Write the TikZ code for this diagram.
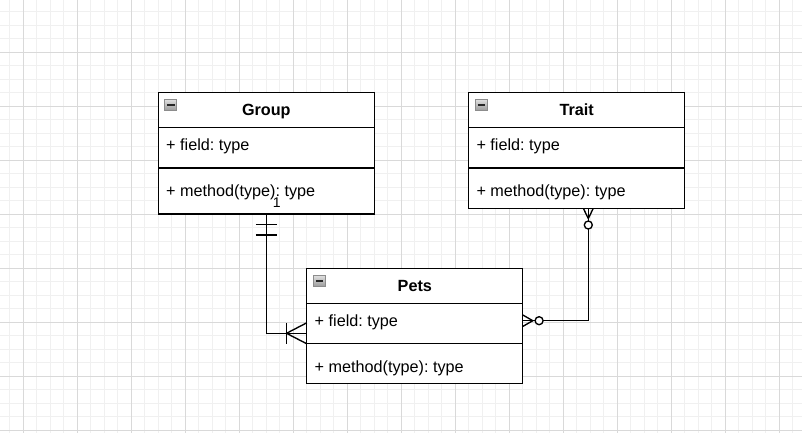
\documentclass[tikz,border=0pt]{standalone}
\usepackage{fontspec}
\setmainfont{Liberation Sans}
\usetikzlibrary{calc}
\frenchspacing
\begin{document}
\frenchspacing
\begin{tikzpicture}[x=1pt,y=-1pt,
  minorgrid/.style={draw=black!6, line width=1pt},
  majorgrid/.style={draw=black!15, line width=1pt},
  classbox/.style={draw=black, line width=1.35pt, fill=white, anchor=north west, inner sep=0pt, outer sep=0pt, minimum width=216pt},
  titletext/.style={font=\fontsize{16.2}{19}\selectfont\bfseries, inner sep=0pt, anchor=base},
  member/.style={font=\fontsize{16.2}{19}\selectfont\frenchspacing, inner sep=0pt, anchor=base west},
  rowline/.style={draw=black, line width=1.35pt},
  conn/.style={draw=black, line width=1.35pt},
  iconbox/.style={top color=black!12, bottom color=black!40, draw=black!45, line width=0.8pt},
  iconbar/.style={draw=black!85, line width=1.6pt},
  lbl/.style={font=\fontsize{14}{16}\selectfont, inner sep=0pt, anchor=base},
  ]
\useasboundingbox (0,0) rectangle (802,433);
\fill[white] (0,0) rectangle (802,433);
% grid
\foreach \x in {9.8,23.3,...,802} \draw[minorgrid] (\x,0) -- (\x,433);
\foreach \y in {11.8,25.3,...,433} \draw[minorgrid] (0,\y) -- (802,\y);
\foreach \x in {23.3,77.3,...,802} \draw[majorgrid] (\x,0) -- (\x,433);
\foreach \y in {52.3,106.3,...,433} \draw[majorgrid] (0,\y) -- (802,\y);

% Group
\node[classbox, minimum height=121.7pt] (group) at (158.3,92.3) {};
\draw[rowline] ($(group.north west)+(0,35.4)$) -- ($(group.north east)+(0,35.4)$);
\draw[rowline] ($(group.north west)+(0,75.7)$) -- ($(group.north east)+(0,75.7)$);
\node[titletext] (gtitle) at ($(group.north)+(0,23.4)$) {Group};
\node[member] (gfield) at ($(group.north west)+(7.7,58.4)$) {+ field: type};
\node[member] (gmethod) at ($(group.north west)+(7.7,104.4)$) {+ method(type): type};
\shade[iconbox] ($(group.north west)+(6.4,7)$) rectangle ++(12,11.4);
\draw[iconbar] ($(group.north west)+(9,12.7)$) -- ++(7.2,0);

% Trait
\node[classbox, minimum height=116pt] (trait) at (468.6,92.3) {};
\draw[rowline] ($(trait.north west)+(0,35.4)$) -- ($(trait.north east)+(0,35.4)$);
\draw[rowline] ($(trait.north west)+(0,75.7)$) -- ($(trait.north east)+(0,75.7)$);
\node[titletext] (ttitle) at ($(trait.north)+(0,23.4)$) {Trait};
\node[member] (tfield) at ($(trait.north west)+(7.7,58.4)$) {+ field: type};
\node[member] (tmethod) at ($(trait.north west)+(7.7,104.4)$) {+ method(type): type};
\shade[iconbox] ($(trait.north west)+(6.4,7)$) rectangle ++(12,11.4);
\draw[iconbar] ($(trait.north west)+(9,12.7)$) -- ++(7.2,0);

% Pets
\node[classbox, minimum height=115pt] (pets) at (306.8,268.3) {};
\draw[rowline] ($(pets.north west)+(0,35)$) -- ($(pets.north east)+(0,35)$);
\draw[rowline] ($(pets.north west)+(0,75.1)$) -- ($(pets.north east)+(0,75.1)$);
\node[titletext] (ptitle) at ($(pets.north)+(0,23.4)$) {Pets};
\node[member] (pfield) at ($(pets.north west)+(7.7,58.4)$) {+ field: type};
\node[member] (pmethod) at ($(pets.north west)+(7.7,104.4)$) {+ method(type): type};
\shade[iconbox] ($(pets.north west)+(6.4,7)$) rectangle ++(12,11.4);
\draw[iconbar] ($(pets.north west)+(9,12.7)$) -- ++(7.2,0);

% connector Group -> Pets
\coordinate (gs) at (group.south);
\coordinate (pl) at ($(pets.north west)+(0,65)$);
\draw[conn] (gs) |- (pl);
\draw[conn] ($(gs)+(-10.5,10.3)$) -- ++(21,0);
\draw[conn] ($(gs)+(-10.5,21)$) -- ++(21,0);
\draw[conn] ($(pl)+(-20.3,-10.5)$) -- ++(0,21);
\draw[conn] ($(pl)+(0,-10.5)$) -- ($(pl)+(-20.3,0)$) -- ($(pl)+(0,10.5)$);
\node[lbl] (one) at ($(gs)+(10.4,-7)$) {1};

% connector Trait -> Pets
\coordinate (ts) at ($(trait.south west)+(119.7,0)$);
\coordinate (pr) at ($(pets.north east)+(0,52.4)$);
\draw[conn] ($(ts)+(0,20.7)$) |- ($(pr)+(16.3,0)$);
\draw[conn] (ts) -- ($(ts)+(0,12.7)$);
\draw[conn] ($(ts)+(-5,0)$) -- ($(ts)+(0,10.2)$) -- ($(ts)+(5,0)$);
\draw[conn, fill=white] ($(ts)+(0,16.7)$) circle[radius=4pt];
\draw[conn] (pr) -- ($(pr)+(12.3,0)$);
\draw[conn] ($(pr)+(0,-5.7)$) -- ($(pr)+(10,0)$) -- ($(pr)+(0,5.7)$);
\draw[conn, fill=white] ($(pr)+(16.3,0)$) circle[radius=4pt];
\end{tikzpicture}
\end{document}
